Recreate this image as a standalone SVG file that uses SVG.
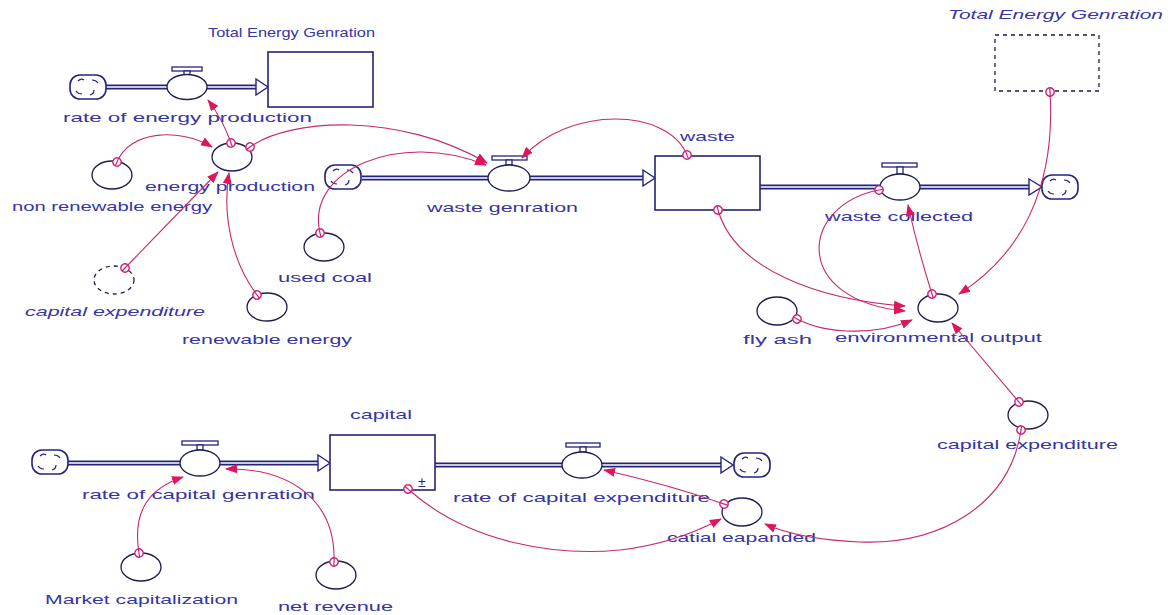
<svg xmlns="http://www.w3.org/2000/svg" width="1168" height="615" viewBox="0 0 1168 615">
<style>
.lbl{font-family:"Liberation Sans",Arial,sans-serif;font-size:13px;fill:#3535a5}
.it{font-style:italic}
.aux{fill:#fff;stroke:#1e1e50;stroke-width:1.3}
.ghost{fill:#fff;stroke:#1e1e50;stroke-width:1.3;stroke-dasharray:4 4}
.stock{fill:#fff;stroke:#23236e;stroke-width:1.6}
.pipeo{fill:none;stroke:#24247e;stroke-width:5}
.pipei{fill:none;stroke:#fff;stroke-width:1.6}
.parr{fill:#fff;stroke:#24247e;stroke-width:1.4}
.cloud{fill:#fff;stroke:#24247e;stroke-width:1.6}
.curl{fill:none;stroke:#24247e;stroke-width:1.2}
.bar{fill:#fff;stroke:#24247e;stroke-width:1.3}
.conn{fill:none;stroke:#c8286e;stroke-width:1.1;marker-start:url(#org);marker-end:url(#arr)}
</style>
<defs>
<marker id="arr" viewBox="0 0 12 12" refX="11" refY="6" markerWidth="12" markerHeight="12" orient="auto" markerUnits="userSpaceOnUse"><path d="M0,1.5 L12,6 L0,10.5 z" fill="#e0145a"/></marker>
<marker id="org" viewBox="-6 -6 12 12" refX="0" refY="0" markerWidth="12" markerHeight="12" orient="auto" markerUnits="userSpaceOnUse"><circle r="4.2" fill="#fff" stroke="#d0207a" stroke-width="1.4"/><line x1="-4.2" y1="0" x2="4.2" y2="0" stroke="#d0207a" stroke-width="1.2"/></marker>
<g id="cl"><rect x="-18" y="-12" width="36" height="24" rx="10" class="cloud"/><path class="curl" d="M-10,-6 q3,-3 6,-1 M4,-7 q4,0 6,3 M-12,4 q2,3 6,3 M6,3 q0,4 -4,5"/></g>
</defs>
<rect width="1168" height="615" fill="#fff"/>

<g id="flows">
<path class="pipeo" d="M106,87 H256"/><path class="pipei" d="M106,87 H257"/>
<polygon class="parr" points="256,79 268,87 256,95"/>
<path class="pipeo" d="M362,178 H643"/><path class="pipei" d="M362,178 H644"/>
<polygon class="parr" points="643,170 655,178 643,186"/>
<path class="pipeo" d="M760,187 H1029"/><path class="pipei" d="M760,187 H1030"/>
<polygon class="parr" points="1029,179 1042,187 1029,195"/>
<path class="pipeo" d="M68,463 H318"/><path class="pipei" d="M68,463 H319"/>
<polygon class="parr" points="318,455 330,463 318,471"/>
<path class="pipeo" d="M435,465 H721"/><path class="pipei" d="M435,465 H722"/>
<polygon class="parr" points="721,457 733,465 721,473"/>
</g>

<g id="clouds">
<use href="#cl" x="88" y="87"/>
<use href="#cl" x="343" y="177"/>
<use href="#cl" x="1060" y="187"/>
<use href="#cl" x="50" y="462"/>
<use href="#cl" x="752" y="465"/>
</g>

<g id="stock-total-energy"><rect class="stock" x="268" y="52" width="105" height="55"/><text class="lbl" x="208" y="37" textLength="167" lengthAdjust="spacingAndGlyphs">Total Energy Genration</text></g>
<g id="stock-waste"><rect class="stock" x="655" y="156" width="105" height="54"/><text class="lbl" x="680" y="141" textLength="55" lengthAdjust="spacingAndGlyphs">waste</text></g>
<g id="stock-capital"><rect class="stock" x="330" y="435" width="105" height="55"/><text class="lbl" x="418" y="487" style="font-size:14px;fill:#24247e">±</text><text class="lbl" x="350" y="419" textLength="62" lengthAdjust="spacingAndGlyphs">capital</text></g>
<g id="ghost-total-energy"><rect class="ghost" x="995" y="35" width="104" height="56"/><text class="lbl it" x="948" y="19" textLength="215" lengthAdjust="spacingAndGlyphs">Total Energy Genration</text></g>

<g id="valve-energy"><rect class="bar" x="172" y="67" width="30" height="4"/><rect class="bar" x="184" y="71" width="6" height="4"/><ellipse class="aux" cx="187" cy="87" rx="20" ry="12.5"/><text class="lbl" x="63" y="122" textLength="249" lengthAdjust="spacingAndGlyphs">rate of energy production</text></g>
<g id="valve-waste-gen"><rect class="bar" x="492" y="156" width="35" height="4"/><rect class="bar" x="506" y="160" width="6" height="5"/><ellipse class="aux" cx="509" cy="178" rx="21" ry="13"/><text class="lbl" x="427" y="212" textLength="151" lengthAdjust="spacingAndGlyphs">waste genration</text></g>
<g id="valve-waste-col"><rect class="bar" x="882" y="163" width="35" height="4"/><rect class="bar" x="897" y="167" width="6" height="7"/><ellipse class="aux" cx="900" cy="187" rx="20" ry="13"/><text class="lbl" x="825" y="221" textLength="148" lengthAdjust="spacingAndGlyphs">waste collected</text></g>
<g id="valve-cap-gen"><rect class="bar" x="182" y="441" width="36" height="4"/><rect class="bar" x="197" y="445" width="6" height="5"/><ellipse class="aux" cx="200" cy="463" rx="20" ry="13"/><text class="lbl" x="82" y="499" textLength="233" lengthAdjust="spacingAndGlyphs">rate of capital genration</text></g>
<g id="valve-cap-exp"><rect class="bar" x="566" y="443" width="34" height="4"/><rect class="bar" x="580" y="447" width="6" height="5"/><ellipse class="aux" cx="582" cy="465" rx="20" ry="13"/><text class="lbl" x="453" y="502" textLength="257" lengthAdjust="spacingAndGlyphs">rate of capital expenditure</text></g>

<g id="aux-energy-production"><ellipse class="aux" cx="232" cy="157" rx="20" ry="14"/><text class="lbl" x="145" y="191" textLength="170" lengthAdjust="spacingAndGlyphs">energy production</text></g>
<g id="aux-non-renewable"><ellipse class="aux" cx="112" cy="175" rx="20" ry="14"/><text class="lbl" x="12" y="211" textLength="200" lengthAdjust="spacingAndGlyphs">non renewable energy</text></g>
<g id="ghost-capital-expenditure"><ellipse class="ghost" cx="114" cy="280" rx="20" ry="14"/><text class="lbl it" x="25" y="316" textLength="180" lengthAdjust="spacingAndGlyphs">capital expenditure</text></g>
<g id="aux-renewable"><ellipse class="aux" cx="267" cy="307" rx="20" ry="14"/><text class="lbl" x="182" y="344" textLength="170" lengthAdjust="spacingAndGlyphs">renewable energy</text></g>
<g id="aux-used-coal"><ellipse class="aux" cx="324" cy="247" rx="20" ry="14"/><text class="lbl" x="278" y="282" textLength="94" lengthAdjust="spacingAndGlyphs">used coal</text></g>
<g id="aux-env-output"><ellipse class="aux" cx="938" cy="308" rx="20" ry="14"/><text class="lbl" x="835" y="342" textLength="207" lengthAdjust="spacingAndGlyphs">environmental output</text></g>
<g id="aux-fly-ash"><ellipse class="aux" cx="777" cy="311" rx="20" ry="14"/><text class="lbl" x="743" y="344" textLength="69" lengthAdjust="spacingAndGlyphs">fly ash</text></g>
<g id="aux-capital-expenditure"><ellipse class="aux" cx="1028" cy="415" rx="20" ry="14"/><text class="lbl" x="937" y="449" textLength="181" lengthAdjust="spacingAndGlyphs">capital expenditure</text></g>
<g id="aux-catial-eapanded"><ellipse class="aux" cx="742" cy="512" rx="20" ry="14"/><text class="lbl" x="667" y="542" textLength="149" lengthAdjust="spacingAndGlyphs">catial eapanded</text></g>
<g id="aux-market-cap"><ellipse class="aux" cx="141" cy="567" rx="20" ry="14"/><text class="lbl" x="45" y="604" textLength="193" lengthAdjust="spacingAndGlyphs">Market capitalization</text></g>
<g id="aux-net-revenue"><ellipse class="aux" cx="336" cy="575" rx="20" ry="14"/><text class="lbl" x="278" y="611" textLength="115" lengthAdjust="spacingAndGlyphs">net revenue</text></g>

<g id="connectors">
<path class="conn" d="M231,143 Q222,118 208,100"/>
<path class="conn" d="M117,162 C130,130 180,128 212,147"/>
<path class="conn" d="M250,147 C290,118 400,112 487,163"/>
<path class="conn" d="M320,233 C305,170 400,130 486,165"/>
<path class="conn" d="M687,155 C668,108 570,105 522,158"/>
<path class="conn" d="M718,210 C735,270 820,300 905,306"/>
<path class="conn" d="M879,190 C800,205 790,300 905,311"/>
<path class="conn" d="M932,294 Q918,250 908,205"/>
<path class="conn" d="M1050,92 C1056,190 1020,255 959,294"/>
<path class="conn" d="M797,319 C830,336 880,334 912,320"/>
<path class="conn" d="M1019,402 L952,323"/>
<path class="conn" d="M1021,430 C1010,505 940,545 860,542 C815,540 785,533 765,524"/>
<path class="conn" d="M408,489 C470,545 560,556 620,550 C665,545 700,530 721,519"/>
<path class="conn" d="M724,504 Q670,485 604,470"/>
<path class="conn" d="M139,553 C132,510 150,488 183,477"/>
<path class="conn" d="M334,562 C336,500 290,468 226,469"/>
<path class="conn" d="M125,268 L218,172"/>
<path class="conn" d="M257,295 C232,262 222,215 229,173"/>
</g>
</svg>
